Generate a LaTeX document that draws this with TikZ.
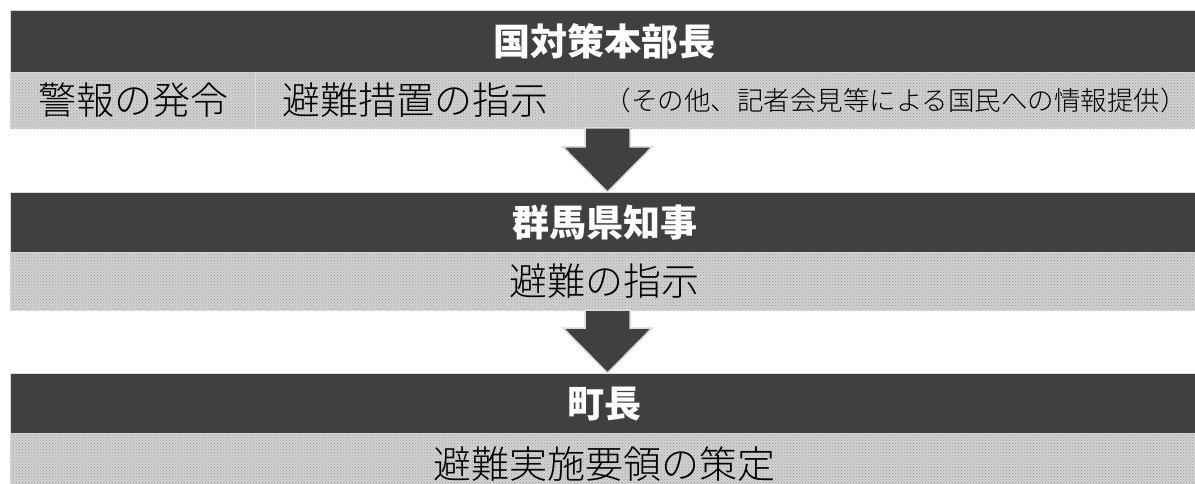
\documentclass[tikz,border=0pt]{standalone}
\usepackage{fontspec}
\newfontfamily\jp{Noto Sans CJK JP}
\newfontfamily\jplight{Noto Sans CJK JP Light}
\usetikzlibrary{calc,patterns}
\definecolor{darkband}{HTML}{404040}
\definecolor{lightband}{HTML}{D2D2D2}
\definecolor{dotc}{HTML}{9C9C9C}
\definecolor{edgec}{HTML}{DCDCDC}
\tikzset{
  headband/.style={draw=edgec, line width=1.2pt, fill=darkband, text=white,
    font=\jp\bfseries\fontsize{37}{40}\selectfont, inner sep=0pt,
    anchor=north west, minimum height=#1, minimum width=1188},
  subband/.style={draw=edgec, line width=1.2pt, fill=lightband,
    postaction={pattern=crosshatch dots, pattern color=dotc},
    text=black, font=\jplight\fontsize{38}{40}\selectfont, inner sep=0pt,
    anchor=north west, minimum height=#1},
  smalltext/.style={font=\jplight\fontsize{26.5}{30}\selectfont},
  downarrow/.style={draw=edgec, line width=1.5pt, fill=darkband},
}
\begin{document}
\begin{tikzpicture}[x=1pt,y=-1pt]
\useasboundingbox (0,0) rectangle (1195,484);
% level 1
\node[headband=62] (h1) at (10,10) {国対策本部長};
\node[subband=56, minimum width=245] (s1a) at (10,72) {警報の発令};
\node[subband=56, minimum width=320] (s1b) at (255,72) {避難措置の指示};
\node[subband=56, minimum width=630, smalltext] (s1c) at (575,72) {\hspace*{10pt}（その他、記者会見等による国民への情報提供）};
% level 2
\node[headband=60] (h2) at (10,192) {群馬県知事};
\node[subband=58, minimum width=1188] (s2) at (10,252) {避難の指示};
% level 3
\node[headband=60] (h3) at (10,373) {町長};
\node[subband=60, minimum width=1188] (s3) at (10,433) {\raisebox{2pt}{避難実施要領の策定}};
% arrows
\coordinate (a1) at (607.5,128);
\coordinate (t1) at (607.5,192);
\coordinate (a2) at (607.5,310);
\coordinate (t2) at (607.5,373);
\draw[downarrow] ($(a1)+(-22.5,0)$) -- ($(a1)+(22.5,0)$) -- ($(a1)+(22.5,19)$) -- ($(a1)+(44.5,19)$) -- (t1) -- ($(a1)+(-44.5,19)$) -- ($(a1)+(-22.5,19)$) -- cycle;
\draw[downarrow] ($(a2)+(-22.5,0)$) -- ($(a2)+(22.5,0)$) -- ($(a2)+(22.5,18)$) -- ($(a2)+(44.5,18)$) -- (t2) -- ($(a2)+(-44.5,18)$) -- ($(a2)+(-22.5,18)$) -- cycle;
\end{tikzpicture}
\end{document}
